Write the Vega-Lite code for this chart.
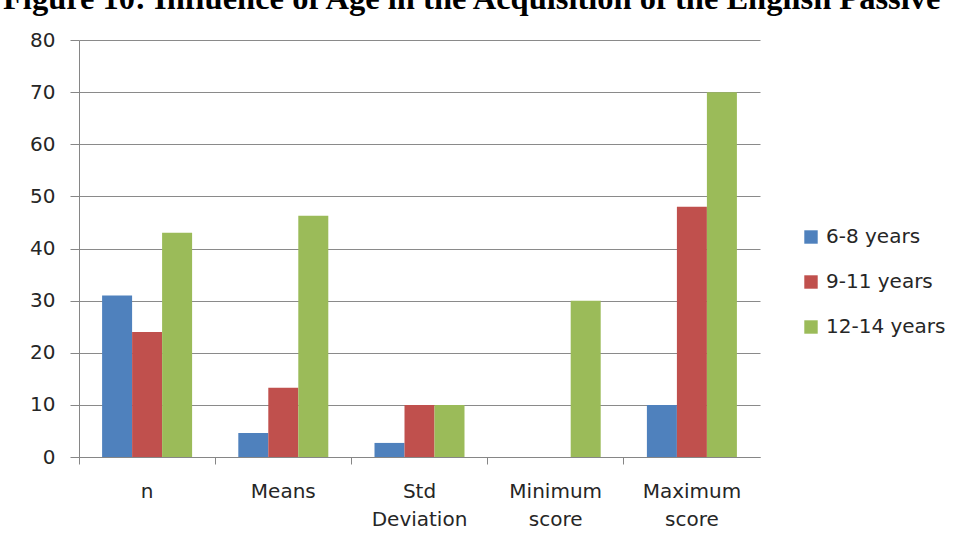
{
  "$schema": "https://vega.github.io/schema/vega-lite/v6.json",
  "autosize": {"type": "none"},
  "padding": {"left": 79, "top": 40, "right": 203, "bottom": 87},
  "width": 681,
  "height": 417,
  "background": "white",
  "title": {
    "text": "Figure 10: Influence of Age in the Acquisition of the English Passive",
    "anchor": "start",
    "frame": "group",
    "orient": "top",
    "font": "Liberation Serif",
    "fontWeight": "bold",
    "fontSize": 32.5,
    "color": "#000000",
    "baseline": "bottom",
    "offset": 0,
    "dx": -76,
    "dy": 18
  },
  "data": {
    "values": [
      {"stat": "n", "age": "6-8 years", "value": 31},
      {"stat": "n", "age": "9-11 years", "value": 24},
      {"stat": "n", "age": "12-14 years", "value": 43},
      {"stat": "Means", "age": "6-8 years", "value": 4.6},
      {"stat": "Means", "age": "9-11 years", "value": 13.3},
      {"stat": "Means", "age": "12-14 years", "value": 46.3},
      {"stat": "Std Deviation", "age": "6-8 years", "value": 2.7},
      {"stat": "Std Deviation", "age": "9-11 years", "value": 10},
      {"stat": "Std Deviation", "age": "12-14 years", "value": 10},
      {"stat": "Minimum score", "age": "6-8 years", "value": 0},
      {"stat": "Minimum score", "age": "9-11 years", "value": 0},
      {"stat": "Minimum score", "age": "12-14 years", "value": 30},
      {"stat": "Maximum score", "age": "6-8 years", "value": 10},
      {"stat": "Maximum score", "age": "9-11 years", "value": 48},
      {"stat": "Maximum score", "age": "12-14 years", "value": 70}
    ]
  },
  "mark": {"type": "bar"},
  "encoding": {
    "x": {
      "field": "stat",
      "type": "nominal",
      "sort": ["n", "Means", "Std Deviation", "Minimum score", "Maximum score"],
      "scale": {"paddingInner": 0, "paddingOuter": 0},
      "axis": {
        "title": null,
        "labelAngle": 0,
        "bandPosition": 0,
        "labelExpr": "split(datum.label, ' ')",
        "labelBaseline": "top",
        "labelLineHeight": 28,
        "labelPadding": 17,
        "tickSize": 7,
        "tickColor": "#868686",
        "domainColor": "#868686",
        "labelFont": "DejaVu Sans",
        "labelFontSize": 20,
        "labelColor": "#262626",
        "grid": false
      }
    },
    "xOffset": {
      "field": "age",
      "type": "nominal",
      "sort": ["6-8 years", "9-11 years", "12-14 years"],
      "scale": {"paddingInner": 0, "paddingOuter": 0.77}
    },
    "y": {
      "field": "value",
      "type": "quantitative",
      "scale": {"domain": [0, 80], "nice": false},
      "axis": {
        "title": null,
        "values": [0, 10, 20, 30, 40, 50, 60, 70, 80],
        "tickSize": 9,
        "tickColor": "#868686",
        "domainColor": "#868686",
        "gridColor": "#8a8a8a",
        "labelFont": "DejaVu Sans",
        "labelFontSize": 20,
        "labelColor": "#262626",
        "labelPadding": 15
      }
    },
    "color": {
      "field": "age",
      "type": "nominal",
      "sort": ["6-8 years", "9-11 years", "12-14 years"],
      "scale": {
        "domain": ["6-8 years", "9-11 years", "12-14 years"],
        "range": ["#4F81BD", "#C0504D", "#9BBB59"]
      },
      "legend": {
        "title": null,
        "orient": "none",
        "legendX": 722,
        "legendY": 187,
        "padding": 0,
        "symbolType": "square",
        "symbolSize": 180,
        "symbolStrokeWidth": 0,
        "labelFont": "DejaVu Sans",
        "labelFontSize": 20,
        "labelColor": "#262626",
        "labelOffset": 5,
        "rowPadding": 25
      }
    }
  },
  "config": {
    "view": {"stroke": null},
    "axis": {"gridWidth": 1, "domainWidth": 1, "tickWidth": 1}
  }
}
